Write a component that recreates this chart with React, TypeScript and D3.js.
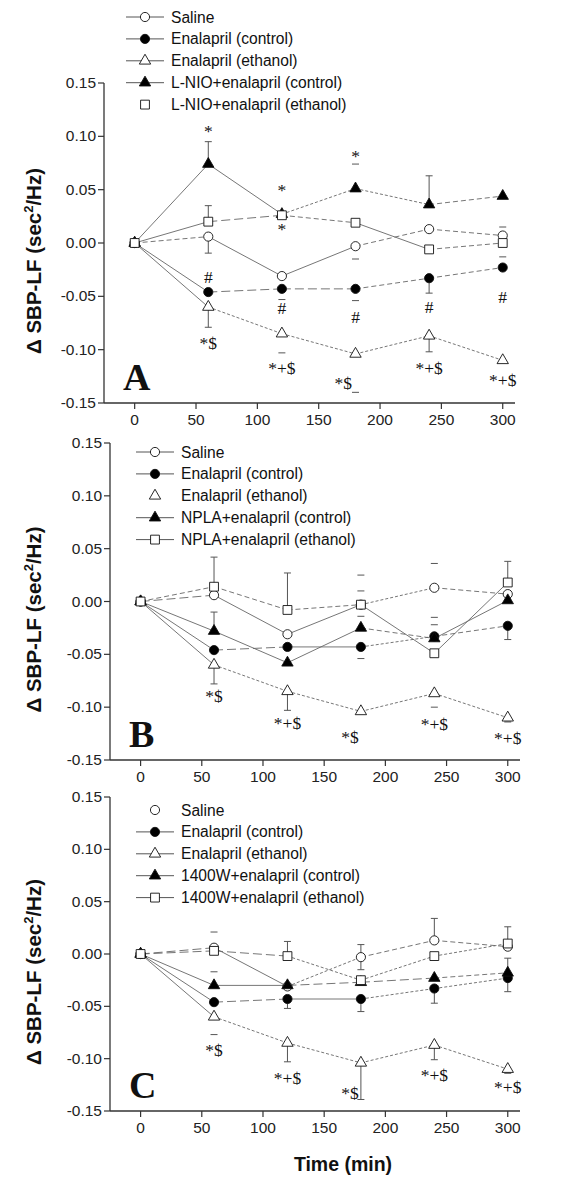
import React from 'react';
import * as d3 from 'd3';

// time points (min) and axis ticks
const times = [0, 60, 120, 180, 240, 300];
const xTicks = [0, 50, 100, 150, 200, 250, 300];
const yTicks = [-0.15, -0.1, -0.05, 0, 0.05, 0.1, 0.15];

// groups shared by all three panels
const saline = [0, 0.006, -0.031, -0.003, 0.013, 0.007];
const enalControl = [0, -0.046, -0.043, -0.043, -0.033, -0.023];
const enalEthanol = [0, -0.060, -0.085, -0.104, -0.087, -0.110];

// panel A
const lnioControl = [0, 0.074, 0.027, 0.051, 0.036, 0.044];
const lnioEthanol = [0, 0.020, 0.026, 0.019, -0.006, 0.000];
// panel B
const nplaControl = [0, -0.028, -0.058, -0.025, -0.035, 0.001];
const nplaEthanol = [0, 0.014, -0.008, -0.003, -0.049, 0.018];
// panel C
const w1400Control = [0, -0.030, -0.030, -0.027, -0.023, -0.018];
const w1400Ethanol = [0, 0.003, -0.002, -0.025, -0.002, 0.010];

// error bars: [series, time, end of bar]
const errorsA: [string, number, number][] = [
  ['s4', 60, 0.095], ['s4', 240, 0.063], ['s5', 60, 0.035], ['s1', 60, -0.0095],
  ['s3', 60, -0.079], ['s3', 240, -0.102], ['s2', 240, -0.047],
];
const errorsB: [string, number, number][] = [
  ['s5', 60, 0.042], ['s4', 60, -0.010], ['s3', 60, -0.078], ['s5', 120, 0.027],
  ['s3', 120, -0.103], ['s5', 300, 0.038], ['s2', 300, -0.036],
];
const errorsC: [string, number, number][] = [
  ['s3', 120, -0.103], ['s3', 180, -0.139], ['s3', 240, -0.101],
  ['s2', 120, -0.052], ['s2', 180, -0.055], ['s2', 240, -0.047], ['s2', 300, -0.036],
  ['s1', 180, 0.009], ['s1', 180, -0.015], ['s1', 240, 0.034],
  ['s5', 120, 0.012], ['s5', 300, 0.026], ['s4', 300, -0.004],
];
// lone caps whose stems vanished in the print: [time, value]
const capsA: [number, number][] = [
  [180, 0.074], [120, -0.053], [180, -0.054], [180, -0.015], [300, 0.015], [300, -0.013],
  [120, -0.103], [180, -0.14],
];
const capsB: [number, number][] = [
  [180, 0.025], [180, 0.010], [180, -0.014], [180, -0.054],
  [240, 0.036], [240, -0.015], [240, -0.022], [240, -0.100], [300, -0.114],
];
const capsC: [number, number][] = [[60, 0.021], [60, -0.017], [60, -0.077], [300, -0.114]];

// significance marks: [time, value, text]
const notesA: [number, number, string][] = [
  [60, 0.105, '*'], [120, 0.05, '*'], [120, 0.013, '*'], [180, 0.082, '*'],
  [60, -0.032, '#'], [120, -0.061, '#'], [180, -0.069, '#'], [240, -0.060, '#'], [300, -0.051, '#'],
  [60, -0.094, '*$'], [120, -0.117, '*+$'], [170, -0.131, '*$'], [240, -0.117, '*+$'], [300, -0.128, '*+$'],
];
const notesB: [number, number, string][] = [
  [60, -0.089, '*$'], [120, -0.115, '*+$'], [171, -0.128, '*$'], [240, -0.116, '*+$'], [300, -0.129, '*+$'],
];
const notesC: [number, number, string][] = [
  [60, -0.092, '*$'], [120, -0.118, '*+$'], [171, -0.133, '*$'], [240, -0.116, '*+$'], [300, -0.127, '*+$'],
];

type Shape = 'circle' | 'triangle' | 'square';
type Series = {
  key: string; label: string; values: number[]; shape: Shape; filled: boolean;
  legendLine: boolean; dashes: string[];
};

const dashMap: Record<string, string> = { s: 'none', d: '5,3', l: '9,4', f: '3,2' };

const SANS = 'Liberation Sans, Arial, sans-serif';
const SERIF = 'Liberation Serif, Times New Roman, serif';

const symbolPath = (shape: Shape) => {
  if (shape === 'circle') return d3.symbol().type(d3.symbolCircle).size(66)()!;
  if (shape === 'square') return d3.symbol().type(d3.symbolSquare).size(78)()!;
  return d3.symbol().type(d3.symbolTriangle).size(56)()!;
};

type PanelProps = {
  letter: string; left: number; right: number; top: number; bottom: number;
  series: Series[]; errors: [string, number, number][]; caps: [number, number][];
  notes: [number, number, string][]; legendX: number; legendY: number;
};

function Panel(p: PanelProps) {
  const x = d3.scaleLinear().domain([-25, 310]).range([p.left, p.right]);
  const y = d3.scaleLinear().domain([-0.15, 0.15]).range([p.bottom, p.top]);
  const byKey: Record<string, Series> = {};
  p.series.forEach(s => (byKey[s.key] = s));
  const cy = (p.top + p.bottom) / 2 + 18;
  return (
    <g>
      {/* axes */}
      <line x1={p.left} x2={p.left} y1={p.top} y2={p.bottom} stroke="#333" strokeWidth={1.3} />
      <line x1={p.left} x2={p.right} y1={p.bottom} y2={p.bottom} stroke="#333" strokeWidth={1.3} />
      {yTicks.map(t => (
        <g key={'y' + t}>
          <line x1={p.left - 6} x2={p.left} y1={y(t)} y2={y(t)} stroke="#333" strokeWidth={1.2} />
          <text x={p.left - 8} y={y(t) + 5} textAnchor="end" fontFamily={SANS} fontSize={15.5} fill="#222">
            {d3.format('.2f')(t).replace('−', '-')}
          </text>
        </g>
      ))}
      {xTicks.map(t => (
        <g key={'x' + t}>
          <line x1={x(t)} x2={x(t)} y1={p.bottom} y2={p.bottom + 6} stroke="#333" strokeWidth={1.2} />
          <text x={x(t)} y={p.bottom + 22} textAnchor="middle" fontFamily={SANS} fontSize={15.5} fill="#222">{t}</text>
        </g>
      ))}
      <text transform={`translate(41,${cy}) rotate(-90)`} textAnchor="middle" fontFamily={SANS}
        fontWeight="bold" fontSize={20.5} fill="#111">
        Δ SBP-LF (sec<tspan fontSize={13} dy={-8}>2</tspan><tspan dy={8}>/Hz)</tspan>
      </text>
      <text x={p.left + 19} y={p.bottom - 13} fontFamily={SERIF} fontWeight="bold" fontSize={38} fill="#111">{p.letter}</text>

      {/* connecting lines, one segment at a time */}
      {p.series.map(s => s.values.slice(1).map((v, i) => (
        <line key={s.key + 'l' + i} x1={x(times[i])} y1={y(s.values[i])} x2={x(times[i + 1])} y2={y(v)}
          stroke="#666" strokeWidth={0.9} strokeDasharray={dashMap[s.dashes[i]]} />
      )))}

      {/* error bars */}
      {p.errors.map(([k, t, e], i) => {
        const v = byKey[k].values[times.indexOf(t)];
        return (
          <g key={'e' + i} stroke="#555" strokeWidth={1}>
            <line x1={x(t)} x2={x(t)} y1={y(v)} y2={y(e)} />
            <line x1={x(t) - 3.5} x2={x(t) + 3.5} y1={y(e)} y2={y(e)} />
          </g>
        );
      })}
      {p.caps.map(([t, e], i) => (
        <line key={'c' + i} x1={x(t) - 3.5} x2={x(t) + 3.5} y1={y(e)} y2={y(e)} stroke="#555" strokeWidth={1} />
      ))}

      {/* markers */}
      {p.series.map(s => s.values.map((v, i) => (
        <path key={s.key + 'm' + i} d={symbolPath(s.shape)} transform={`translate(${x(times[i])},${y(v)})`}
          fill={s.filled ? '#000' : '#fff'} stroke="#111" strokeWidth={0.9} />
      )))}

      {/* significance marks */}
      {p.notes.map(([t, v, txt], i) => (
        <text key={'n' + i} x={x(t)} y={y(v)} dominantBaseline="central" textAnchor="middle"
          fontFamily={SERIF} fontSize={17.5} fill="#111">{txt}</text>
      ))}

      {/* legend */}
      {p.series.map((s, i) => {
        const ly = p.legendY + i * 21.9;
        return (
          <g key={'lg' + i}>
            {s.legendLine && <line x1={p.legendX} x2={p.legendX + 38} y1={ly} y2={ly} stroke="#555" strokeWidth={1} />}
            <path d={symbolPath(s.shape)} transform={`translate(${p.legendX + 19},${ly})`}
              fill={s.filled ? '#000' : '#fff'} stroke="#111" strokeWidth={0.9} />
            <text x={p.legendX + 45} y={ly + 5.5} fontFamily={SANS} fontSize={15.6} fill="#111">{s.label}</text>
          </g>
        );
      })}
    </g>
  );
}

const mk = (key: string, label: string, values: number[], shape: Shape, filled: boolean,
  legendLine: boolean, dashes: string): Series => ({ key, label, values, shape, filled, legendLine, dashes: dashes.split('') });

const seriesA = [
  mk('s1', 'Saline', saline, 'circle', false, true, 'dssdd'),
  mk('s2', 'Enalapril (control)', enalControl, 'circle', true, true, 'slldd'),
  mk('s3', 'Enalapril (ethanol)', enalEthanol, 'triangle', false, true, 'sffff'),
  mk('s4', 'L-NIO+enalapril (control)', lnioControl, 'triangle', true, true, 'ssffd'),
  mk('s5', 'L-NIO+enalapril (ethanol)', lnioEthanol, 'square', false, false, 'sldsd'),
];
const seriesB = [
  mk('s1', 'Saline', saline, 'circle', false, true, 'lssfd'),
  mk('s2', 'Enalapril (control)', enalControl, 'circle', true, true, 'slsfd'),
  mk('s3', 'Enalapril (ethanol)', enalEthanol, 'triangle', false, false, 'sffff'),
  mk('s4', 'NPLA+enalapril (control)', nplaControl, 'triangle', true, true, 'sssds'),
  mk('s5', 'NPLA+enalapril (ethanol)', nplaEthanol, 'square', false, true, 'dddss'),
];
const seriesC = [
  mk('s1', 'Saline', saline, 'circle', false, false, 'lsfdd'),
  mk('s2', 'Enalapril (control)', enalControl, 'circle', true, true, 'slsff'),
  mk('s3', 'Enalapril (ethanol)', enalEthanol, 'triangle', false, true, 'sffff'),
  mk('s4', '1400W+enalapril (control)', w1400Control, 'triangle', true, true, 'sslld'),
  mk('s5', '1400W+enalapril (ethanol)', w1400Ethanol, 'square', false, true, 'llfff'),
];

export default function App() {
  return (
    <svg width={581} height={1178} style={{ position: 'absolute', left: 0, top: 0, background: '#fff' }}>
      <Panel letter="A" left={104} right={515} top={83} bottom={403} series={seriesA}
        errors={errorsA} caps={capsA} notes={notesA} legendX={126} legendY={17} />
      <Panel letter="B" left={110} right={520} top={443} bottom={760} series={seriesB}
        errors={errorsB} caps={capsB} notes={notesB} legendX={136} legendY={452} />
      <Panel letter="C" left={110} right={520} top={797} bottom={1111} series={seriesC}
        errors={errorsC} caps={capsC} notes={notesC} legendX={136} legendY={810} />
      <text x={343} y={1171} textAnchor="middle" fontFamily={SANS} fontWeight="bold" fontSize={19.5} fill="#111">Time (min)</text>
    </svg>
  );
}
